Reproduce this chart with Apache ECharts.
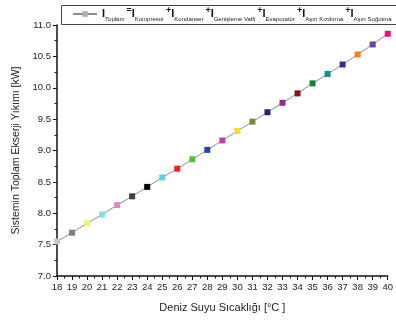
<!DOCTYPE html>
<html>
<head>
<meta charset="utf-8">
<script src="https://cdn.jsdelivr.net/npm/echarts@6/dist/echarts.min.js"></script>
<style>
  html, body { margin: 0; padding: 0; background: #fff; }
  #chart { width: 396px; height: 320px; }
</style>
</head>
<body>
<div id="chart"></div>
<script>
// deniz suyu sicakligi [°C]
var temps = [18, 19, 20, 21, 22, 23, 24, 25, 26, 27, 28, 29, 30, 31, 32, 33, 34, 35, 36, 37, 38, 39, 40]
// toplam ekserji yikimi [kW]
var totals = [7.55, 7.69, 7.84, 7.98, 8.13, 8.27, 8.42, 8.57, 8.71, 8.86, 9.01, 9.16, 9.31, 9.46,
  9.61, 9.76, 9.91, 10.07, 10.22, 10.37, 10.53, 10.69, 10.86]
var pointColors = ['#c8c8c8', '#808080', '#f3ee78', '#8fd8ea', '#e085c8', '#404040', '#000000',
  '#62cfe6', '#ee2222', '#4fbf45', '#2540b0', '#c040a0', '#f2e020', '#7a8a32', '#22227f',
  '#8a3090', '#8a1414', '#138040', '#139090', '#30308f', '#f08020', '#7042a0', '#f01080']
var yTicks = [7.0, 11.0]

var chart = echarts.init(document.getElementById('chart'), null, { renderer: 'canvas' })

var seriesData = temps.map(function (t, i) {
  return { value: [t, totals[i]], itemStyle: { color: pointColors[i] } }
})

var sub = { fontSize: 6, lineHeight: 6, verticalAlign: 'bottom', padding: [0, 2, 0, 0], color: '#222' }
var big = { fontSize: 11, lineHeight: 16, color: '#111', fontWeight: 'bold', fontFamily: 'Liberation Sans' }
var sup = { fontSize: 9, lineHeight: 9, verticalAlign: 'top', color: '#111', fontWeight: 'bold' }

var option = {
  animation: false,
  textStyle: { fontFamily: 'Liberation Sans, Arial, sans-serif' },
  grid: { left: 57, right: 5, top: 25, bottom: 44, containLabel: false },
  graphic: [{
    type: 'rect',
    shape: { x: 61.5, y: 5.5, width: 345, height: 19 },
    style: { fill: '#fff', stroke: '#444', lineWidth: 1 },
    z: 0
  }],
  legend: {
    left: 72,
    top: 6,
    itemWidth: 24,
    itemHeight: 7,
    itemGap: 0,
    padding: 0,
    textStyle: { rich: { b: big, s: sub, p: sup } },
    formatter: function () {
      return '{b|I}{s|Toplam}{p|=}{b|I}{s|Kompresör}{p|+}{b|I}{s|Kondanser}{p|+}{b|I}{s|Genişleme Valfi}' +
        '{p|+}{b|I}{s|Evaporatör}{p|+}{b|I}{s|Aşırı Kızdırma}{p|+}{b|I}{s|Aşırı Soğutma}'
    },
    data: ['toplam']
  },
  xAxis: {
    type: 'value',
    min: 18,
    max: 40,
    interval: 1,
    name: 'Deniz Suyu Sıcaklığı [°C ]',
    nameLocation: 'middle',
    nameGap: 26,
    nameTextStyle: { fontSize: 11, color: '#222' },
    axisLine: { onZero: false, lineStyle: { color: '#111', width: 1.5 } },
    axisTick: { inside: false, length: 4, lineStyle: { color: '#111' } },
    minorTick: { show: true, splitNumber: 2, length: 2.5, lineStyle: { color: '#111' } },
    axisLabel: { fontSize: 9.5, color: '#222', margin: 6 },
    splitLine: { show: false }
  },
  yAxis: {
    type: 'value',
    min: yTicks[0],
    max: yTicks[1],
    interval: 0.5,
    name: 'Sistemin Toplam Ekserji Yıkımı [kW]',
    nameLocation: 'middle',
    nameGap: 34,
    nameTextStyle: { fontSize: 10.5, color: '#222' },
    axisLine: { show: true, onZero: false, lineStyle: { color: '#111', width: 1.5 } },
    axisTick: { show: true, inside: false, length: 4, lineStyle: { color: '#111' } },
    minorTick: { show: true, splitNumber: 2, length: 2.5, lineStyle: { color: '#111' } },
    axisLabel: { fontSize: 9.5, color: '#222', margin: 6, formatter: function (v) { return v.toFixed(1) } },
    splitLine: { show: false }
  },
  series: [{
    name: 'toplam',
    type: 'line',
    data: seriesData,
    symbol: 'rect',
    symbolSize: 6,
    lineStyle: { color: '#8c8c8c', width: 1 },
    itemStyle: { color: '#b0b0b0' },
    clip: false,
    z: 3
  }]
}

chart.setOption(option)
</script>
</body>
</html>
